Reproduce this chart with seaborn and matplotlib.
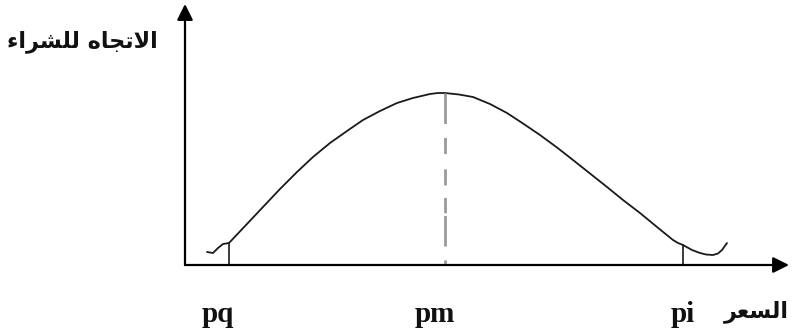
import numpy as np
import pandas as pd
import seaborn as sns
import matplotlib.pyplot as plt

# ---- data ----
price = [22, 28, 33, 38, 44,
         61, 78, 95, 112, 128, 145, 162, 178, 195, 212, 228, 245, 253, 260,
         274, 288, 305, 322, 338, 355, 372, 388, 405, 422, 438, 455, 472, 488,
         493, 498, 507, 515, 521, 528, 533, 537, 542]
intention = [13, 12, 17, 21, 22,
             40, 58, 76, 93, 108, 122, 134, 145, 154, 162, 167, 171, 172, 172,
             170.5, 168, 161, 152, 141.5, 130, 117.5, 105, 91.5, 78, 65, 52, 38, 25,
             22, 20, 15, 12, 10.5, 10, 11.5, 15, 22]
mark_labels = ["pq", "pm", "pi"]
mark_price = [44, 260, 498]
mark_height = [22, 172, 20]

y_title = "\uFE80\uFE8D\uFEAE\uFEB8\uFEE0\uFEDF \uFEE9\uFE8E\uFEA0\uFE97\uFEFB\uFE8D"  # الاتجاه للشراء
x_title = "\uFEAE\uFECC\uFEB4\uFEDF\uFE8D"  # السعر

df = pd.DataFrame({"price": price, "intention": intention})

sns.set_style("white")
fig = plt.figure(figsize=(7.92, 3.33), dpi=100)
ax = fig.add_axes([0, 0, 1, 1])
ax.set_xlim(-185, 607)
ax.set_ylim(-68, 265)
ax.axis("off")

# axes with arrows
arrow = dict(arrowstyle="-|>", mutation_scale=24, lw=1.6, color="black",
             shrinkA=0, shrinkB=0)
ax.annotate("", xy=(0, 261), xytext=(0, 0), arrowprops=arrow)
ax.annotate("", xy=(604, 0), xytext=(0, 0), arrowprops=arrow)

# curve
sns.lineplot(data=df, x="price", y="intention", sort=False, estimator=None,
             color="#1a1a1a", lw=1.3, ax=ax)

# verticals
for lab, xp, h in zip(mark_labels, mark_price, mark_height):
    if lab == "pm":
        ax.plot([xp, xp], [h, 0], color="#9a9a9a", lw=2.0,
                dashes=(11, 5, 5.8, 5.5, 5.8, 4.5, 5.5, 1))
    else:
        ax.plot([xp, xp], [0, h], color="#1a1a1a", lw=1.2)

label_dx = [-11, -10, 0]
for lab, xp, dx in zip(mark_labels, mark_price, label_dx):
    ax.text(xp + dx, -49, lab, ha="center", va="center", fontsize=21,
            fontweight="bold", family="Liberation Serif", color="#111111")

ax.text(-103, 223, y_title, ha="center", va="center", fontsize=16,
        fontweight="bold", family="DejaVu Sans", color="#111111")
ax.text(571, -47, x_title, ha="center", va="center", fontsize=16,
        fontweight="bold", family="DejaVu Sans", color="#111111")

fig.savefig("out.png", dpi=100)
